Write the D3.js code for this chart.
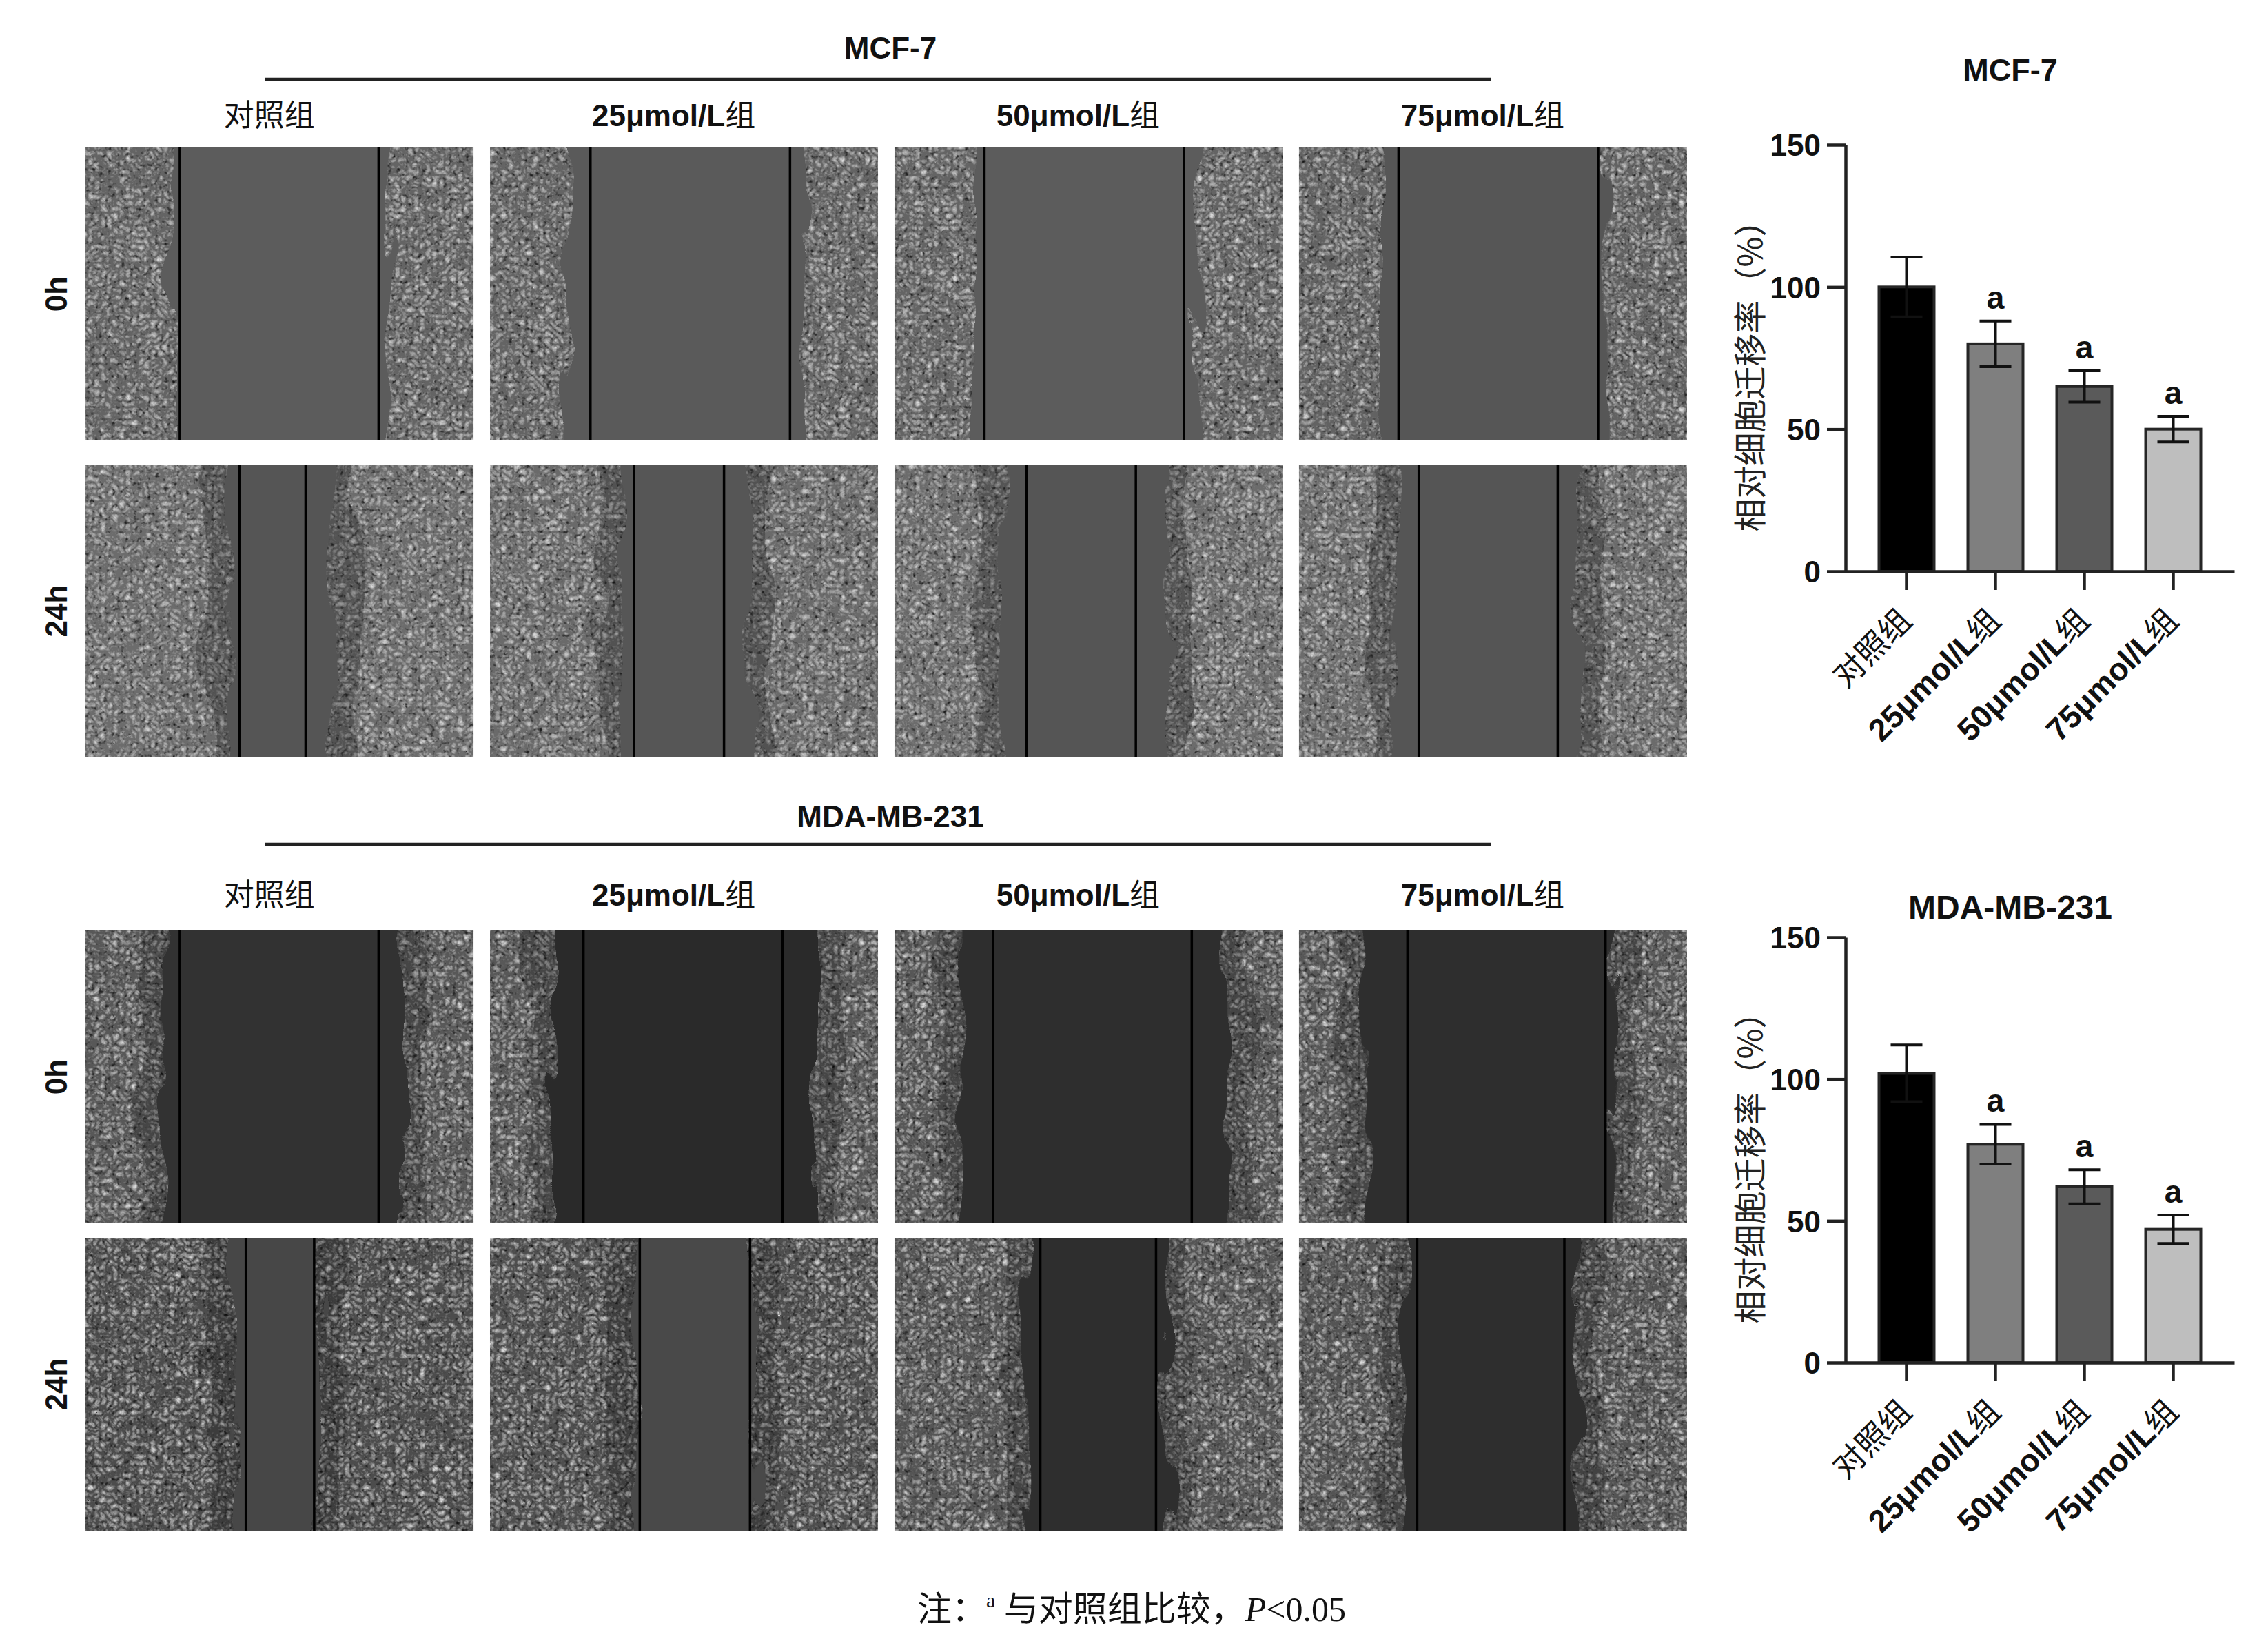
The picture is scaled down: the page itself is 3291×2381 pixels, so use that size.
<!DOCTYPE html>
<html>
<head>
<meta charset="utf-8">
<script src="https://cdn.jsdelivr.net/npm/d3@7"></script>
<style>
  body { margin: 0; background: #fff; }
</style>
</head>
<body>
<svg id="fig"></svg>
<script>
// groups shared by the photos and the bar charts
var groups = ["对照组", "25μmol/L组", "50μmol/L组", "75μmol/L组"];
var times = ["0h", "24h"];
var cellLines = ["MCF-7", "MDA-MB-231"];

// scratch marker lines and cell fronts, as a fraction of each photo's width
var mcf0hLineL = [0.243, 0.259, 0.232, 0.257];
var mcf0hLineR = [0.755, 0.773, 0.746, 0.771];
var mcf0hFrontL = [0.22, 0.195, 0.21, 0.21];
var mcf0hFrontR = [0.78, 0.81, 0.78, 0.79];

var mcf24hLineL = [0.397, 0.371, 0.34, 0.309];
var mcf24hLineR = [0.567, 0.603, 0.622, 0.667];
var mcf24hFrontL = [0.37, 0.34, 0.28, 0.25];
var mcf24hFrontR = [0.64, 0.67, 0.70, 0.72];

var mda0hLineL = [0.243, 0.241, 0.254, 0.28];
var mda0hLineR = [0.755, 0.754, 0.766, 0.79];
var mda0hFrontL = [0.20, 0.16, 0.17, 0.17];
var mda0hFrontR = [0.82, 0.84, 0.86, 0.815];

var mda24hLineL = [0.413, 0.386, 0.376, 0.305];
var mda24hLineR = [0.589, 0.67, 0.674, 0.684];
var mda24hFrontL = [0.38, 0.37, 0.34, 0.27];
var mda24hFrontR = [0.60, 0.68, 0.70, 0.72];

// relative migration rate (%), mean and SD
var mcfMean = [100, 80, 65, 50];
var mcfSD = [10.5, 8, 5.5, 4.5];
var mdaMean = [102, 77, 62, 47];
var mdaSD = [10, 7, 6, 5];
var sigMark = ["", "a", "a", "a"];
var yTicks = [0, 50, 100, 150];

var W = 3291, H = 2381;
var SANS = '"Liberation Sans", Arial, "Noto Sans CJK SC", sans-serif';
var CJK = '"Noto Sans CJK SC", sans-serif';
var isCJK = /[\u4e00-\u9fff]/;

var svg = d3.select("#fig").attr("width", W).attr("height", H)
  .style("background", "#fff");

var defs = svg.append("defs");

// cell texture
var fc = defs.append("filter").attr("id", "cells")
  .attr("x", 0).attr("y", 0).attr("width", 1).attr("height", 1)
  .attr("color-interpolation-filters", "sRGB");
fc.append("feTurbulence").attr("type", "turbulence").attr("baseFrequency", 0.11)
  .attr("numOctaves", 2).attr("seed", 7).attr("result", "n");
fc.append("feColorMatrix").attr("in", "n").attr("type", "matrix")
  .attr("values", "0 0 0 0 0.85  0 0 0 0 0.85  0 0 0 0 0.85  1.6 0 0 0 -0.25").attr("result", "lt");
fc.append("feTurbulence").attr("type", "fractalNoise").attr("baseFrequency", 0.16)
  .attr("numOctaves", 2).attr("seed", 11).attr("result", "n2");
fc.append("feColorMatrix").attr("in", "n2").attr("type", "matrix")
  .attr("values", "0 0 0 0 0  0 0 0 0 0  0 0 0 0 0  0 -2.4 0 0 1.05").attr("result", "dk");
var fm = fc.append("feMerge").attr("result", "m");
fm.append("feMergeNode").attr("in", "SourceGraphic");
fm.append("feMergeNode").attr("in", "dk");
fm.append("feMergeNode").attr("in", "lt");
fc.append("feComposite").attr("in", "m").attr("in2", "SourceAlpha").attr("operator", "in");

// ragged wound edge
var fr = defs.append("filter").attr("id", "rough")
  .attr("x", "-60%").attr("y", "-5%").attr("width", "220%").attr("height", "110%");
fr.append("feTurbulence").attr("type", "fractalNoise").attr("baseFrequency", "0.03 0.009")
  .attr("numOctaves", 2).attr("seed", 3).attr("result", "t");
fr.append("feDisplacementMap").attr("in", "SourceGraphic").attr("in2", "t")
  .attr("scale", 55).attr("xChannelSelector", "R").attr("yChannelSelector", "G");

// ---------- photo grid ----------
var colX = d3.scaleBand().domain(groups).range([124, 2448]).paddingInner(0.04);
var rowH = 425;

var rows = [
  { line: 0, time: 0, y: 214, lineL: mcf0hLineL, lineR: mcf0hLineR, frontL: mcf0hFrontL, frontR: mcf0hFrontR,
    cell: ["#646464", "#646464", "#646464", "#626262"], wound: ["#5b5b5b", "#5a5a5a", "#5b5b5b", "#575757"], fringe: 0 },
  { line: 0, time: 1, y: 674, lineL: mcf24hLineL, lineR: mcf24hLineR, frontL: mcf24hFrontL, frontR: mcf24hFrontR,
    cell: ["#6c6c6c", "#6a6a6a", "#6c6c6c", "#6b6b6b"], wound: ["#555555", "#565656", "#545454", "#555555"], fringe: 0.22 },
  { line: 1, time: 0, y: 1350, lineL: mda0hLineL, lineR: mda0hLineR, frontL: mda0hFrontL, frontR: mda0hFrontR,
    cell: ["#585858", "#585858", "#575757", "#585858"], wound: ["#313131", "#2c2c2c", "#2d2d2d", "#2f2f2f"], fringe: 0.2 },
  { line: 1, time: 1, y: 1796, lineL: mda24hLineL, lineR: mda24hLineR, frontL: mda24hFrontL, frontR: mda24hFrontR,
    cell: ["#4c4c4c", "#4e4e4e", "#555555", "#545454"], wound: ["#464646", "#484848", "#2d2d2d", "#2e2e2e"], fringe: 0.2 }
];

rows.forEach(function(r, ri) {
  groups.forEach(function(gname, ci) {
    var x0 = colX(gname), w = colX.bandwidth();
    var id = "clip" + ri + "_" + ci;
    defs.append("clipPath").attr("id", id)
      .append("rect").attr("x", x0).attr("y", r.y).attr("width", w).attr("height", rowH);

    var g = svg.append("g").attr("clip-path", "url(#" + id + ")");
    g.append("rect")
      .attr("x", x0).attr("y", r.y).attr("width", w).attr("height", rowH)
      .attr("fill", r.cell[ci]).attr("filter", "url(#cells)");

    if (r.fringe > 0) {
      g.append("rect")
        .attr("x", x0 + (r.frontL[ci] - 0.06) * w).attr("y", r.y - 40)
        .attr("width", (r.frontR[ci] - r.frontL[ci] + 0.12) * w).attr("height", rowH + 80)
        .attr("fill", "#000").attr("opacity", r.fringe).attr("filter", "url(#rough)");
    }

    g.append("rect")
      .attr("x", x0 + r.frontL[ci] * w).attr("y", r.y - 40)
      .attr("width", (r.frontR[ci] - r.frontL[ci]) * w).attr("height", rowH + 80)
      .attr("fill", r.wound[ci]).attr("filter", "url(#rough)");

    [r.lineL[ci], r.lineR[ci]].forEach(function(f) {
      g.append("line")
        .attr("x1", x0 + f * w).attr("x2", x0 + f * w)
        .attr("y1", r.y).attr("y2", r.y + rowH)
        .attr("stroke", "#000").attr("stroke-width", 3.5);
    });
  });

  // time label
  svg.append("text")
    .attr("transform", "translate(81," + (r.y + rowH / 2) + ") rotate(-90)")
    .attr("text-anchor", "middle").attr("dominant-baseline", "central")
    .attr("font-family", SANS).attr("font-size", 44).attr("font-weight", "bold")
    .attr("fill", "#111")
    .text(times[r.time]);
});

// write a label with bold latin runs and regular CJK runs
function mixedText(t, s) {
  s.match(/[\u4e00-\u9fff]+|[^\u4e00-\u9fff]+/g).forEach(function(run) {
    t.append("tspan").text(run)
      .attr("font-weight", isCJK.test(run) ? "normal" : "bold")
      .attr("font-family", isCJK.test(run) ? CJK : SANS);
  });
}

// block titles, rule and group headers
var blocks = [
  { titleY: 85, ruleY: 115, headY: 183 },
  { titleY: 1200, ruleY: 1225, headY: 1314 }
];
blocks.forEach(function(b, bi) {
  svg.append("text")
    .attr("x", 1292).attr("y", b.titleY).attr("text-anchor", "middle")
    .attr("font-family", SANS).attr("font-size", 44).attr("font-weight", "bold")
    .attr("fill", "#111")
    .text(cellLines[bi]);
  svg.append("line")
    .attr("x1", 384).attr("x2", 2163).attr("y1", b.ruleY).attr("y2", b.ruleY)
    .attr("stroke", "#222").attr("stroke-width", 4.5);
  groups.forEach(function(gname) {
    var t = svg.append("text")
      .attr("x", colX(gname) + colX.bandwidth() / 2 - 15).attr("y", b.headY)
      .attr("text-anchor", "middle")
      .attr("font-size", 44).attr("fill", "#111");
    mixedText(t, gname);
  });
});

// ---------- bar charts ----------
var barFill = ["#000000", "#7f7f7f", "#5a5a5a", "#bebebe"];

function barChart(cfg) {
  var y = d3.scaleLinear().domain([0, 150]).range([cfg.y0, cfg.y1]);
  var x = d3.scaleBand().domain(groups).range([2678, 3242])
    .paddingInner(0.38).paddingOuter(0.376);
  var g = svg.append("g");

  g.selectAll("rect.bar").data(cfg.mean).join("rect")
    .attr("class", "bar")
    .attr("x", function(d, i) { return x(groups[i]); })
    .attr("y", function(d) { return y(d); })
    .attr("width", x.bandwidth())
    .attr("height", function(d) { return y(0) - y(d); })
    .attr("fill", function(d, i) { return barFill[i]; })
    .attr("stroke", "#262626").attr("stroke-width", 4);

  // y axis
  var ya = g.append("g").attr("transform", "translate(2678,0)")
    .call(d3.axisLeft(y).tickValues(yTicks).tickSize(27).tickSizeOuter(0).tickPadding(9));
  ya.attr("font-family", SANS).attr("font-size", 44).attr("font-weight", "bold");
  ya.select(".domain").attr("stroke", "#222").attr("stroke-width", 4.5);
  ya.selectAll(".tick line").attr("stroke", "#222").attr("stroke-width", 4.5);
  ya.selectAll(".tick text").attr("fill", "#111").attr("dy", "0.36em");

  // x axis
  var xa = g.append("g").attr("transform", "translate(0," + cfg.y0 + ")")
    .call(d3.axisBottom(x).tickSize(27).tickSizeOuter(0));
  xa.attr("font-family", SANS).attr("font-size", 46);
  xa.select(".domain").attr("stroke", "#222").attr("stroke-width", 4.5);
  xa.selectAll(".tick line").attr("stroke", "#222").attr("stroke-width", 4.5);
  xa.selectAll(".tick text").each(function(d) {
    var t = d3.select(this);
    t.text(null).attr("y", null).attr("dy", null)
      .attr("text-anchor", "end").attr("fill", "#111")
      .attr("transform", "translate(10,74) rotate(-45)");
    mixedText(t, d);
  });

  // error bars
  var cap = 23;
  var eb = g.selectAll("g.err").data(cfg.mean).join("g").attr("class", "err")
    .attr("stroke", "#111").attr("stroke-width", 4);
  eb.append("line")
    .attr("x1", function(d, i) { return x(groups[i]) + x.bandwidth() / 2; })
    .attr("x2", function(d, i) { return x(groups[i]) + x.bandwidth() / 2; })
    .attr("y1", function(d, i) { return y(d - cfg.sd[i]); })
    .attr("y2", function(d, i) { return y(d + cfg.sd[i]); });
  [1, -1].forEach(function(sgn) {
    eb.append("line")
      .attr("x1", function(d, i) { return x(groups[i]) + x.bandwidth() / 2 - cap; })
      .attr("x2", function(d, i) { return x(groups[i]) + x.bandwidth() / 2 + cap; })
      .attr("y1", function(d, i) { return y(d + sgn * cfg.sd[i]); })
      .attr("y2", function(d, i) { return y(d + sgn * cfg.sd[i]); });
  });

  // significance letters
  g.selectAll("text.sig").data(cfg.mean).join("text")
    .attr("class", "sig")
    .attr("x", function(d, i) { return x(groups[i]) + x.bandwidth() / 2; })
    .attr("y", function(d, i) { return y(d + cfg.sd[i]) - 18; })
    .attr("text-anchor", "middle")
    .attr("font-family", SANS).attr("font-size", 46).attr("font-weight", "bold")
    .attr("fill", "#111")
    .text(function(d, i) { return sigMark[i]; });

  // y axis title
  g.append("text")
    .attr("transform", "translate(2536," + ((cfg.y0 + cfg.y1) / 2 + 14) + ") rotate(-90)")
    .attr("text-anchor", "middle").attr("dominant-baseline", "central")
    .attr("font-family", CJK).attr("font-size", 48).attr("fill", "#222")
    .text("相对细胞迁移率（%）");

  // title
  g.append("text")
    .attr("x", 2917).attr("y", cfg.titleY).attr("text-anchor", "middle")
    .attr("font-family", SANS).attr("font-size", cfg.titleSize).attr("font-weight", "bold")
    .attr("fill", "#111")
    .text(cfg.title);
}

barChart({ title: cellLines[0], titleY: 117, titleSize: 45, y0: 829, y1: 210, mean: mcfMean, sd: mcfSD });
barChart({ title: cellLines[1], titleY: 1333, titleSize: 48, y0: 1977, y1: 1360, mean: mdaMean, sd: mdaSD });

// ---------- footnote ----------
var note = svg.append("text")
  .attr("x", 1642).attr("y", 2352).attr("text-anchor", "middle")
  .attr("font-family", '"Liberation Serif", "Noto Sans CJK SC", serif')
  .attr("font-size", 50).attr("fill", "#111");
note.append("tspan").text("注：");
note.append("tspan").text("a").attr("font-size", 30).attr("dy", -20);
note.append("tspan").text(" 与对照组比较，").attr("dy", 20);
note.append("tspan").text("P").attr("font-style", "italic");
note.append("tspan").text("<0.05");
</script>
</body>
</html>
